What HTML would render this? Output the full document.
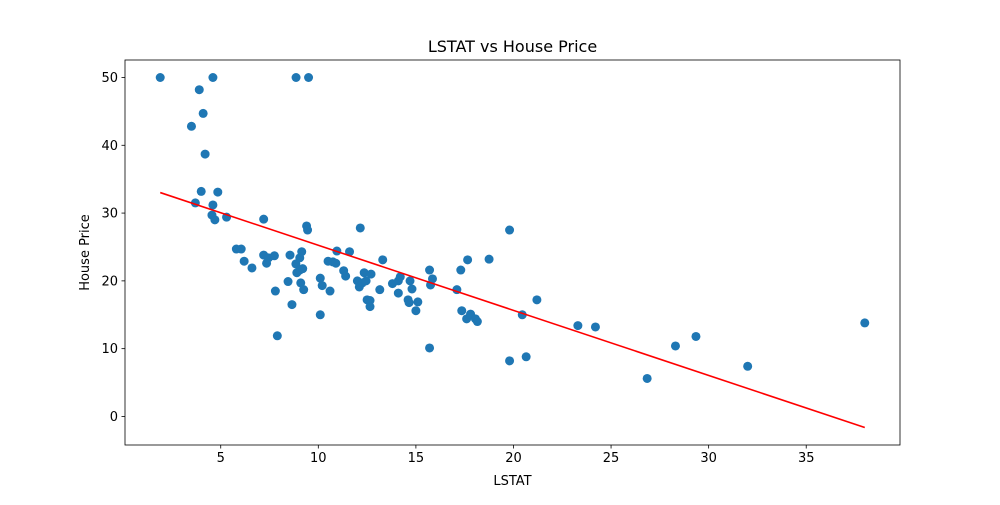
<!DOCTYPE html>
<html><head><meta charset="utf-8"><style>
body{margin:0;background:#fff;font-family:"Liberation Sans","DejaVu Sans",sans-serif}
</style></head><body>
<svg id="chart" width="1000" height="500" xmlns="http://www.w3.org/2000/svg" font-family="DejaVu Sans, Liberation Sans, sans-serif"></svg>
<script>
const lstat=[1.9,4.6,8.86,9.5,3.9,4.1,3.5,4.2,4.0,4.85,3.7,4.6,4.55,4.7,5.3,7.2,9.4,9.45,12.15,19.8,5.8,6.05,6.2,6.6,7.2,7.35,7.45,7.75,8.55,7.8,7.9,8.45,8.65,8.85,8.9,9.05,9.05,9.1,9.15,9.2,9.25,10.1,10.1,10.2,10.5,10.6,10.75,10.9,10.95,11.3,11.4,11.6,12,12.1,12.25,12.35,12.5,12.45,12.65,12.65,12.7,13.3,13.15,13.8,14.1,14.1,14.2,14.6,14.65,14.7,14.8,15,15.1,15.7,15.7,15.75,15.85,17.1,17.3,17.35,17.6,17.65,17.8,18.05,18.15,18.75,19.8,20.45,20.65,21.2,23.3,24.2,26.85,28.3,29.35,32,38.0];
const price=[50,50,50,50,48.2,44.7,42.8,38.7,33.2,33.1,31.5,31.2,29.7,29,29.4,29.1,28.1,27.5,27.8,27.5,24.7,24.7,22.9,21.9,23.8,22.6,23.4,23.7,23.8,18.5,11.9,19.9,16.5,22.5,21.2,23.4,21.6,19.7,24.3,21.8,18.7,15,20.4,19.3,22.9,18.5,22.8,22.6,24.4,21.5,20.7,24.3,20,19.1,19.7,21.2,17.2,20,17.1,16.2,21,23.1,18.7,19.6,20,18.2,20.6,17.2,16.8,20,18.8,15.6,16.9,10.1,21.6,19.4,20.3,18.7,21.6,15.6,14.4,23.1,15.1,14.4,14,23.2,8.2,15,8.8,17.2,13.4,13.2,5.6,10.4,11.8,7.4,13.8];
const fitCoef=[34.85,-0.96]; // intercept, slope
const xTicks=[5,10,15,20,25,30,35];
const yTicks=[0,10,20,30,40,50];
const svg=document.getElementById('chart');
const NS='http://www.w3.org/2000/svg';
const L=125,R=900,T=60,B=445;
const n=lstat.length;
const icpt=fitCoef[0],slope=fitCoef[1];
const xmin0=Math.min(...lstat),xmax0=Math.max(...lstat);
const fy1=icpt+slope*xmin0,fy2=icpt+slope*xmax0;
const ylo=Math.min(...price,fy1,fy2),yhi=Math.max(...price,fy1,fy2);
const xm=(xmax0-xmin0)*0.05,ym=(yhi-ylo)*0.05;
const X0=xmin0-xm,X1=xmax0+xm,Y0=ylo-ym,Y1=yhi+ym;
const sx=v=>L+(v-X0)/(X1-X0)*(R-L);
const sy=v=>B-(v-Y0)/(Y1-Y0)*(B-T);
function el(t,a,txt){const e=document.createElementNS(NS,t);for(const k in a)e.setAttribute(k,a[k]);if(txt!==undefined)e.textContent=txt;svg.appendChild(e);return e;}
for(let i=0;i<n;i++){
 const c=el('circle',{cx:sx(lstat[i]),cy:sy(price[i]),r:4.5,fill:'#1f77b4'});
 
 
}
const ln=el('line',{x1:sx(xmin0),y1:sy(fy1),x2:sx(xmax0),y2:sy(fy2),stroke:'#ff0000','stroke-width':1.6});


const fr=el('rect',{x:L,y:T,width:R-L,height:B-T,fill:'none',stroke:'#000','stroke-width':0.8});


xTicks.forEach(v=>{const x=sx(v);el('line',{x1:x,y1:B,x2:x,y2:B+3.5,stroke:'#000','stroke-width':0.8});
 const t=el('text',{x:x,y:B+17,'text-anchor':'middle','font-size':13,fill:'#000'},v);
 
 });
yTicks.forEach(v=>{const y=sy(v);el('line',{x1:L-3.5,y1:y,x2:L,y2:y,stroke:'#000','stroke-width':0.8});
 const t=el('text',{x:L-7,y:y+4.5,'text-anchor':'end','font-size':13,fill:'#000'},v);
 
 });
const tt=el('text',{x:(L+R)/2,y:52,'text-anchor':'middle','font-size':16,fill:'#000'},'LSTAT vs House Price');


const xl=el('text',{x:(L+R)/2,y:485,'text-anchor':'middle','font-size':13,fill:'#000'},'LSTAT');


const yl=el('text',{x:0,y:0,'text-anchor':'middle','font-size':13,fill:'#000',transform:'translate(89,'+((T+B)/2)+') rotate(-90)'},'House Price');


</script>
</body></html>
